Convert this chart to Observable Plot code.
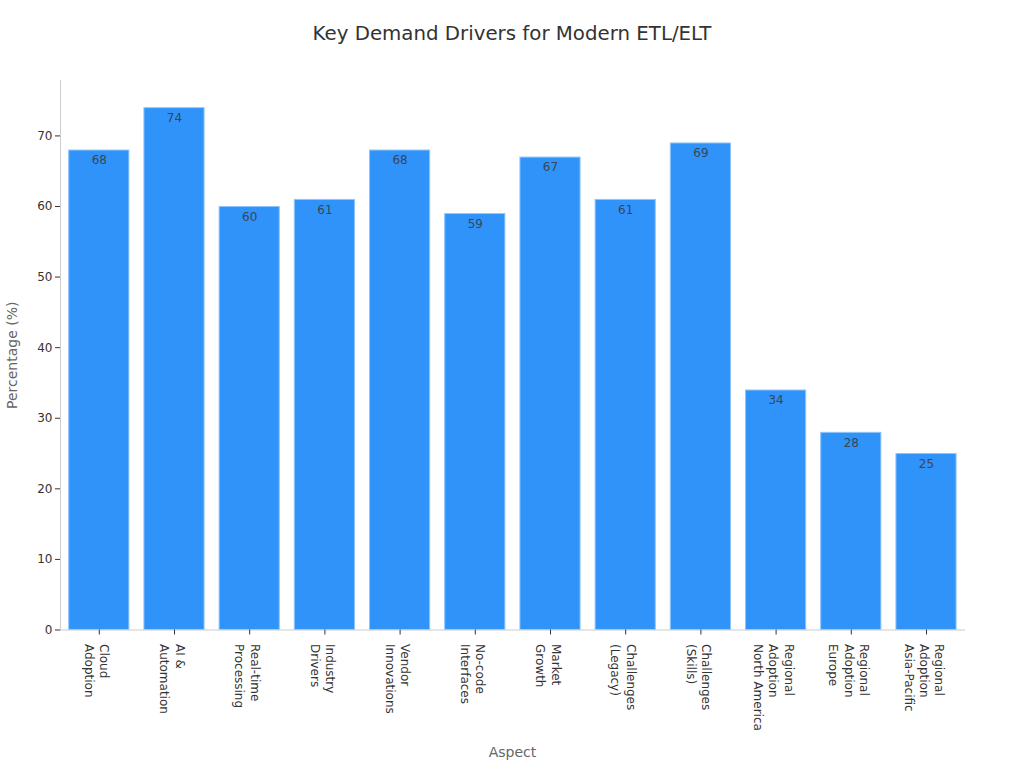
<!DOCTYPE html>
<html>
<head>
<meta charset="utf-8">
<script src="https://cdn.jsdelivr.net/npm/d3@7"></script>
<script src="https://cdn.jsdelivr.net/npm/@observablehq/plot@0.6"></script>
<style>
html,body{margin:0;padding:0;background:#fff;overflow:hidden}
#title{height:60px;box-sizing:border-box;padding-top:21px;text-align:center;font:19.8px/26px "DejaVu Sans",sans-serif;color:#333}
svg{display:block}
</style>
</head>
<body>
<div id="title">Key Demand Drivers for Modern ETL/ELT</div>
<div id="chart"></div>
<script>
const categories = ["Cloud\nAdoption","AI &\nAutomation","Real-time\nProcessing","Industry\nDrivers","Vendor\nInnovations","No-code\nInterfaces","Market\nGrowth","Challenges\n(Legacy)","Challenges\n(Skills)","Regional\nAdoption\nNorth America","Regional\nAdoption\nEurope","Regional\nAdoption\nAsia-Pacific"];
const values = [68,74,60,61,68,59,67,61,69,34,28,25];
const yTicks = [0,10,20,30,40,50,60,70];
const table = categories.map((c,i)=>({c,v:values[i]}));
const font = "DejaVu Sans";
const plot = Plot.plot({
  width:1024,height:708,
  marginLeft:60,marginRight:60,marginTop:20,marginBottom:138.5,
  style:{fontFamily:font,fontSize:"12px",background:"#fff"},
  x:{domain:categories,range:[61.2,963.6],round:false,paddingInner:0.2,paddingOuter:0.1,align:0.5,label:null},
  y:{domain:[0,77.85],label:null},
  marks:[
    Plot.barY(table,{x:"c",y:"v",fill:"#2f93fa",stroke:"#8fc4fb",strokeWidth:1,insetTop:0.5}),
    Plot.text(table,{x:"c",y:"v",text:d=>String(d.v),dy:10.5,fill:"#3a4654",fontSize:12}),
    Plot.frame({anchor:"left",stroke:"#cccccc"}),
    Plot.frame({anchor:"bottom",stroke:"#cccccc"}),
    Plot.axisY({ticks:yTicks,tickSize:5,tickPadding:3,stroke:"#333",fill:"#333",label:null,fontSize:12}),
    Plot.axisX({tickSize:5,text:null,stroke:"#333",label:null}),
    Plot.axisX({tickSize:0,tickPadding:14,tickRotate:90,dx:-1.7,fill:"#333",label:null,fontSize:12,lineHeight:1.28}),
    Plot.text(["Aspect"],{frameAnchor:"bottom",dy:127,fill:"#666",fontSize:14}),
    Plot.text(["Percentage (%)"],{frameAnchor:"left",textAnchor:"middle",dx:-48,rotate:-90,fill:"#666",fontSize:14})
  ]
});
document.getElementById("chart").append(plot);
</script>
</body>
</html>
